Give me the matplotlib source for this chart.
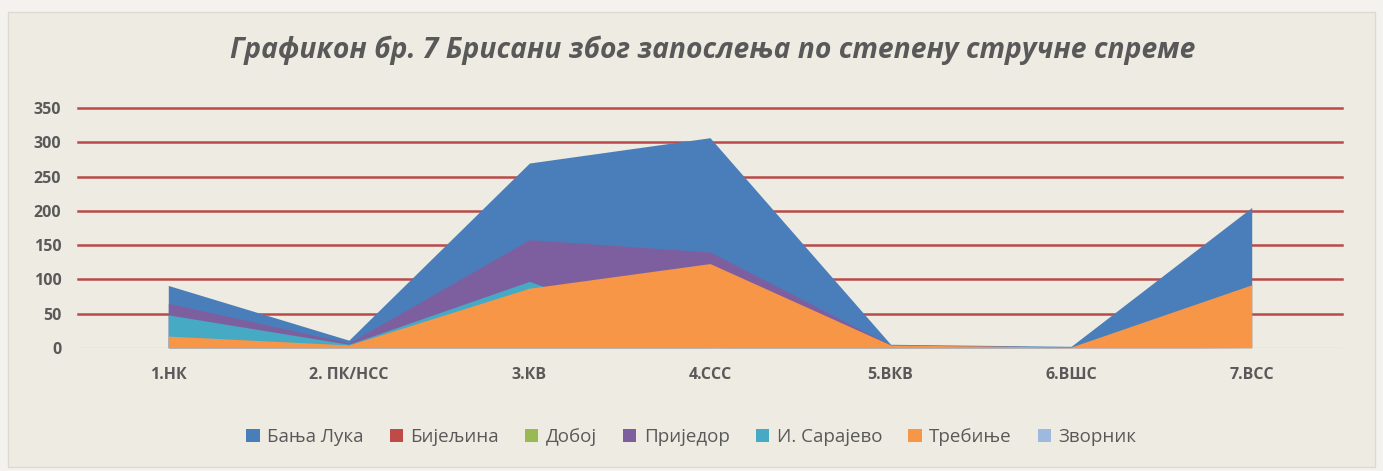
import matplotlib.pyplot as plt
from matplotlib.patches import Rectangle

# categories (degree of professional education)
categories = ['1.НК', '2. ПК/НСС', '3.КВ', '4.ССС', '5.ВКВ', '6.ВШС', '7.ВСС']

# values per office (overlapping area, not stacked)
banja_luka  = [91, 11, 270, 307, 5, 2, 205]
bijeljina   = [0, 0, 0, 0, 0, 0, 0]
doboj       = [0, 0, 0, 0, 0, 0, 0]
prijedor    = [65, 7, 158, 140, 4, 1, 0]
i_sarajevo  = [48, 5, 97, 0, 2, 0, 0]
trebinje    = [17, 4, 87, 123, 4, 1, 92]
zvornik     = [0, 0, 0, 0, 0, 0, 0]

series_names = ['Бања Лука', 'Бијељина', 'Добој', 'Приједор', 'И. Сарајево', 'Требиње', 'Зворник']
series_vals  = [banja_luka, bijeljina, doboj, prijedor, i_sarajevo, trebinje, zvornik]
colors       = ['#4A7EBB', '#BE4B48', '#98B954', '#7D5FA0', '#46AAC5', '#F79646', '#9DB9DE']

bg = '#EEEBE2'
fig = plt.figure(figsize=(13.83, 4.71), dpi=100, facecolor='#F4F2EE')

# chart area panel
panel = fig.add_axes([0, 0, 1, 1], zorder=0)
panel.set_axis_off()
panel.add_patch(Rectangle((8/1383, 1-467/471), 1367/1383, 455/471,
		transform=fig.transFigure, facecolor=bg, edgecolor='#DCD9D0', lw=1.0))

ax = fig.add_axes([78/1383, 1-347.7/471, 1264/1383, 239.4/471], zorder=2)
ax.set_facecolor('none')

x = list(range(len(categories)))
for name, vals, col in zip(series_names, series_vals, colors):
	ax.fill_between(x, 0, vals, color=col, lw=0, label=name, zorder=3)

ax.set_xlim(-0.5, len(categories)-0.5)
ax.set_ylim(0, 350)
ax.set_yticks(range(0, 351, 50))
ax.set_xticks(x)
ax.set_xticklabels(categories)

for y in range(50, 351, 50):
	ax.axhline(y, color='#BA4A4A', lw=1.8, zorder=1, clip_on=False)
ax.axhline(0, color='#D9D9D9', lw=1.0, zorder=1)

for s in ax.spines.values():
	s.set_visible(False)
ax.tick_params(length=0, labelsize=11.5, colors='#595959', pad=14)
ax.tick_params(axis='y', pad=12)
for lab in ax.get_xticklabels() + ax.get_yticklabels():
	lab.set_fontweight('bold')
	lab.set_family('Open Sans')

fig.text(713/1383, 1-50/471, 'Графикон бр. 7 Брисани због запослења по степену стручне спреме',
		ha='center', va='center', fontsize=20.3, fontweight='bold', style='italic',
		color='#595959', family='Open Sans')

leg = fig.legend(*ax.get_legend_handles_labels(), loc='center', bbox_to_anchor=(0.5, 1-437/471),
		ncol=7, frameon=False, prop={'family': 'Open Sans', 'size': 13.5},
		handlelength=0.7, handleheight=0.7, handletextpad=0.4, columnspacing=1.4)
for t in leg.get_texts():
	t.set_color('#595959')

fig.savefig('out.png', dpi=100, facecolor=fig.get_facecolor())
